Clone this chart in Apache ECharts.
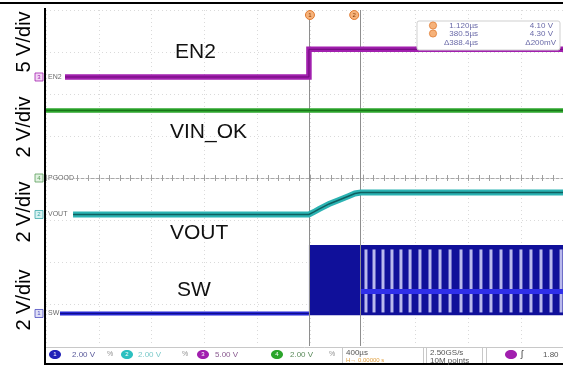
<!DOCTYPE html>
<html><head><meta charset="utf-8">
<script src="https://cdn.jsdelivr.net/npm/echarts@6/dist/echarts.min.js"></script>
<style>html,body{margin:0;padding:0;background:#fff}#c{width:563px;height:367px}</style>
</head><body><div id="c"></div><script>
// ---- axes: time in µs (400 µs/div, trigger at centre), vertical in divisions
const timeMin = -2000, timeMax = 2000, timeInterval = 400;
const divMin = 0, divMax = 8, divInterval = 1;

// channel scale (V/div) and ground position (div from bottom)
const en2Scale = 5,   en2Ground = 6.405;
const vinokScale = 2, vinokGround = 4.0;
const voutScale = 2,  voutGround = 3.131;
const swScale = 2,    swGround = 0.774;

// ---- trace data (time µs, volts)
const en2Time = [-1856, -8, -8, 1960];
const en2Volt = [0, 0, 3.3, 3.3];
const vinokTime = [-2000, 1960];
const vinokVolt = [3.22, 3.22];
const voutTime = [-1795, -8, 30, 68, 144, 220, 295, 340, 385, 1960];
const voutVolt = [0, 0, 0.12, 0.26, 0.50, 0.69, 0.88, 1.00, 1.05, 1.05];
const swTime = [-1894, -8];
const swVolt = [0, 0];
// switching burst envelope [start, end, low V, high V]
const swBurst = [[-8, 1960, -0.08, 3.26]];
// DCM ringing level on SW after soft start
const swRingTime = [385, 1960];
const swRingVolt = [1.05, 1.05];
// light gaps seen in the burst (µs)
const swGapTimes = [424, 485, 553, 621, 689, 758, 833, 909, 985, 1061, 1144, 1220, 1295, 1371, 1447, 1523, 1598, 1674, 1750, 1826, 1902];
// cursors (µs)
const cursorTimes = [-7.9, 380.5];

const toDiv = (times, volts, g, s) => times.map((t, i) => [t, g + volts[i] / s]);

const chart = echarts.init(document.getElementById('c'), null, {renderer: 'canvas'});
const FONT = '"Liberation Sans", Arial, sans-serif';

function lineSeries(data, color, width, z) {
  return {type: 'line', data, symbol: 'none', silent: true, animation: false, z,
    lineStyle: {color, width, cap: 'butt', join: 'miter'}, xAxisIndex: 0, yAxisIndex: 0};
}

const option = {
  animation: false,
  backgroundColor: '#fff',
  grid: {left: 46, top: 10, width: 528, height: 336, show: false, containLabel: false, outerBoundsMode: 'none'},
  xAxis: [
    {type: 'value', min: timeMin, max: timeMax, interval: timeInterval,
     axisLabel: {show: false}, axisTick: {show: false}, axisLine: {show: false},
     splitLine: {show: true, lineStyle: {color: '#dadada', type: [1, 3], width: 1}}},
    {type: 'value', min: timeMin, max: timeMax, interval: timeInterval, position: 'bottom',
     axisLabel: {show: false},
     axisLine: {show: true, onZero: true, onZeroAxisIndex: 1, lineStyle: {color: '#a8a8a8', type: [3, 2], width: 1}},
     axisTick: {show: true, inside: true, length: 3, lineStyle: {color: '#a0a0a0'}},
     minorTick: {show: true, splitNumber: 5, length: 3, lineStyle: {color: '#a0a0a0'}},
     splitLine: {show: false}},
    {type: 'value', min: timeMin, max: timeMax, interval: timeInterval, position: 'bottom',
     axisLabel: {show: false},
     axisLine: {show: false, onZero: true, onZeroAxisIndex: 1},
     axisTick: {show: true, inside: false, length: 3, lineStyle: {color: '#a0a0a0'}},
     minorTick: {show: true, splitNumber: 5, length: 3, lineStyle: {color: '#a0a0a0'}},
     splitLine: {show: false}}
  ],
  yAxis: [
    {type: 'value', min: divMin, max: divMax, interval: divInterval,
     axisLabel: {show: false}, axisTick: {show: false}, axisLine: {show: false},
     splitLine: {show: true, lineStyle: {color: '#dadada', type: [1, 3], width: 1}}},
    {type: 'value', min: -4, max: 4, show: false}
  ],
  series: [
    {type: 'line', data: [], silent: true, z: 1,
     markLine: {silent: true, symbol: 'none', animation: false,
       lineStyle: {color: '#8e8e8e', width: 1, type: 'solid'}, label: {show: false},
       data: cursorTimes.map(t => ({xAxis: t}))}},
    {type: 'custom', z: 3, silent: true, clip: true,
     data: swBurst,
     renderItem: (p, api) => {
       const a = api.coord([api.value(0), swGround + api.value(2) / swScale]);
       const b = api.coord([api.value(1), swGround + api.value(3) / swScale]);
       return {type: 'rect', shape: {x: a[0], y: b[1], width: b[0] - a[0], height: a[1] - b[1]},
               style: {fill: '#10109a'}};
     }},
    {type: 'custom', z: 4, silent: true, clip: true,
     data: swGapTimes.map(t => [t]),
     renderItem: (p, api) => {
       const a = api.coord([api.value(0), swGround + 0.05 / swScale]);
       const b = api.coord([api.value(0), swGround + 3.05 / swScale]);
       return {type: 'rect', shape: {x: a[0] - 1.5, y: b[1], width: 3, height: a[1] - b[1]},
               style: {fill: 'rgba(200,200,244,0.92)'}};
     }},
    lineSeries(toDiv(swRingTime, swRingVolt, swGround, swScale), '#2f2fea', 5, 5),
    lineSeries(toDiv(swTime, swVolt, swGround, swScale), '#2626d2', 4, 6),
    lineSeries(toDiv(swTime, swVolt, swGround, swScale), '#10108a', 1, 7),
    lineSeries(toDiv(voutTime, voutVolt, voutGround, voutScale), '#2bb3b3', 6, 6),
    lineSeries(toDiv(voutTime, voutVolt, voutGround, voutScale), '#0f5f60', 1.4, 7),
    lineSeries(toDiv(vinokTime, vinokVolt, vinokGround, vinokScale), '#2ca52c', 4.5, 6),
    lineSeries(toDiv(vinokTime, vinokVolt, vinokGround, vinokScale), '#176f17', 1, 7),
    lineSeries(toDiv(en2Time, en2Volt, en2Ground, en2Scale), '#a11fae', 5.5, 6),
    lineSeries(toDiv(en2Time, en2Volt, en2Ground, en2Scale), '#6e0b7a', 1, 7)
  ]
};
chart.setOption(option);

// ---- annotations
const px = (t, d) => chart.convertToPixel({xAxisIndex: 0, yAxisIndex: 0}, [t, d]);
const g = [];
const T = (x, y, text, size, color, extra) => ({type: 'text', x, y, z: 70,
  style: Object.assign({text, font: size + 'px ' + FONT, fill: color}, extra || {})});

// frame lines
g.push({type: 'rect', shape: {x: 0, y: 2, width: 563, height: 2}, style: {fill: '#000'}, z: 60});
g.push({type: 'rect', shape: {x: 44, y: 8, width: 2, height: 357}, style: {fill: '#000'}, z: 60});
g.push({type: 'rect', shape: {x: 44, y: 363, width: 519, height: 2}, style: {fill: '#000'}, z: 60});

// rotated V/div labels
[[42, '5 V/div'], [127, '2 V/div'], [212, '2 V/div'], [300, '2 V/div']].forEach(([y, s]) => {
  g.push({type: 'text', x: 24, y, rotation: Math.PI / 2, z: 50,
    style: {text: s, font: '20px ' + FONT, fill: '#000', align: 'center', verticalAlign: 'middle'}});
});

// big trace labels
g.push(T(175, 63, 'EN2', 21, '#111', {verticalAlign: 'bottom'}));
g.push(T(170, 143, 'VIN_OK', 21, '#111', {verticalAlign: 'bottom'}));
g.push(T(170, 244, 'VOUT', 21, '#111', {verticalAlign: 'bottom'}));
g.push(T(177, 301, 'SW', 21, '#111', {verticalAlign: 'bottom'}));

// channel ground markers
[[en2Ground, '3', 'EN2', '#a11fae', '#f3d6f5'],
 [vinokGround, '4', 'PGOOD', '#5aa05a', '#e2f2e2'],
 [voutGround, '2', 'VOUT', '#3aa8a8', '#d8f2f2'],
 [swGround, '1', 'SW', '#4a4ac0', '#e0e0f6']].forEach(([d, n, name, c, bg]) => {
  const p = px(timeMin, d);
  g.push({type: 'rect', shape: {x: 35, y: p[1] - 4, width: 8, height: 8}, z: 65,
    style: {fill: bg, stroke: c, lineWidth: 0.8}});
  g.push(T(39, p[1], n, 6, c, {align: 'center', verticalAlign: 'middle'}));
  g.push({type: 'rect', shape: {x: 47, y: p[1] - 4, width: name.length * 5 + 2, height: 8}, z: 64,
    style: {fill: 'rgba(255,255,255,0.7)'}});
  g.push(T(48, p[1], name, 7, '#6a6a6a', {verticalAlign: 'middle'}));
});

// cursor markers at top
cursorTimes.forEach((t, i) => {
  const p = px(t, divMax);
  const x = i === 0 ? p[0] + 1 : p[0] - 6;
  g.push({type: 'circle', shape: {cx: x, cy: 15, r: 4.5}, z: 66,
    style: {fill: '#f6b27a', stroke: '#e07a30', lineWidth: 1}});
  g.push(T(x, 15, String(i + 1), 6, '#8a3a00', {align: 'center', verticalAlign: 'middle'}));
});

// cursor readout box
g.push({type: 'rect', shape: {x: 417, y: 21, width: 143, height: 29, r: 2}, z: 66,
  style: {fill: '#fff', stroke: '#cfcfcf', lineWidth: 1}});
[[25.5, '1.120µs', '4.10 V'], [33.5, '380.5µs', '4.30 V']].forEach(([y, a, b], i) => {
  g.push({type: 'circle', shape: {cx: 433, cy: y, r: 3.6}, z: 67, style: {fill: '#f6b27a', stroke: '#e07a30', lineWidth: 0.8}});
  g.push(T(478, y, a, 8, '#6a6aa8', {align: 'right', verticalAlign: 'middle'}));
  g.push(T(553, y, b, 8, '#6a6aa8', {align: 'right', verticalAlign: 'middle'}));
});
g.push(T(478, 42.5, 'Δ388.4µs', 8, '#6a6aa8', {align: 'right', verticalAlign: 'middle'}));
g.push(T(556, 42.5, 'Δ200mV', 8, '#6a6aa8', {align: 'right', verticalAlign: 'middle'}));

// status bar
g.push({type: 'rect', shape: {x: 46, y: 346, width: 517, height: 17}, z: 58, style: {fill: '#fff'}});
g.push({type: 'line', shape: {x1: 46, y1: 347.5, x2: 563, y2: 347.5}, z: 59, style: {stroke: '#c8c8c8', lineWidth: 1}});
const sy = 354.5;
[[55, '1', '#2222b8', 72, '2.00 V', '#5a5a9a', 110],
 [127, '2', '#2cc0c0', 138, '2.00 V', '#7ccaca', 185],
 [203, '3', '#a11fae', 215, '5.00 V', '#8a5a90', null],
 [277, '4', '#2ca52c', 290, '2.00 V', '#5a8a5a', 332]].forEach(([cx, n, c, tx, s, tc, bw]) => {
  g.push({type: 'ellipse', shape: {cx, cy: sy, rx: 6, ry: 4.5}, z: 60, style: {fill: c}});
  g.push(T(cx, sy, n, 6, '#fff', {align: 'center', verticalAlign: 'middle'}));
  g.push(T(tx, sy, s, 8, tc, {verticalAlign: 'middle'}));
  if (bw) g.push(T(bw, sy, '%', 7, '#909090', {align: 'center', verticalAlign: 'middle'}));
});
[342, 423, 426, 482, 486].forEach(x => {
  g.push({type: 'line', shape: {x1: x + 0.5, y1: 348, x2: x + 0.5, y2: 363}, z: 60, style: {stroke: '#c8c8c8', lineWidth: 1}});
});
g.push(T(346, 353, '400µs', 8, '#555', {verticalAlign: 'middle'}));
g.push(T(346, 360.5, 'H→ 0.00000 s', 6, '#e0a040', {verticalAlign: 'middle'}));
g.push(T(430, 353, '2.50GS/s', 8, '#555', {verticalAlign: 'middle'}));
g.push(T(430, 361, '10M points', 8, '#555', {verticalAlign: 'middle'}));
g.push({type: 'ellipse', shape: {cx: 511, cy: sy, rx: 6, ry: 4.5}, z: 60, style: {fill: '#a11fae'}});
g.push(T(522, sy, 'ʃ', 9, '#333', {align: 'center', verticalAlign: 'middle'}));
g.push(T(543, sy, '1.80', 8, '#555', {verticalAlign: 'middle'}));

chart.setOption({graphic: g});
</script></body></html>
